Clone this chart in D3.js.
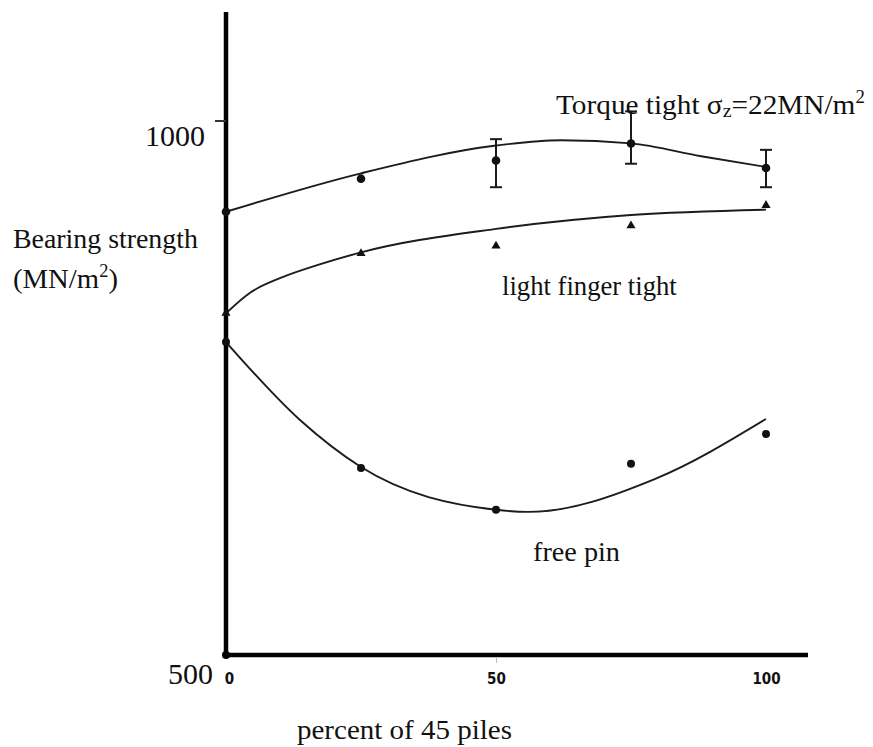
<!DOCTYPE html>
<html>
<head>
<meta charset="utf-8">
<script src="https://cdn.jsdelivr.net/npm/d3@7"></script>
<style>
  html, body { margin: 0; padding: 0; background: #fff; }
  svg text { font-family: "Liberation Serif", "DejaVu Serif", serif; fill: #111; }
</style>
</head>
<body>
<svg id="chart" width="873" height="747"></svg>
<script>
// Measured points (percent of piles vs bearing strength, MN/m²)
const pctPoints = [0, 25, 50, 75, 100];
const torqueValues = [915, 946, 963, 979, 956];
const torqueErrLow = [null, null, 938, 960, 938];
const torqueErrHigh = [null, null, 983, 1009, 973];
const fingerValues = [820, 876, 883, 902, 921];
const freeValues = [793, 675, 636, 679, 707];

// Hand-fitted trend curves
const torqueFitX = [0, 25, 50, 62, 75, 88, 100];
const torqueFitV = [915, 951, 977, 982, 979, 967, 957];
const fingerFitX = [0, 4.4, 10.6, 16.9, 25, 50, 75, 100];
const fingerFitV = [820, 839, 854, 865, 877, 899, 912, 917];
const freeFitX = [0, 13.7, 25, 50, 56, 79.5, 100];
const freeFitV = [793, 720, 676, 636, 634, 665, 721];

// Axis ticks
const xTicks = [0, 50, 100];
const yTicks = [500, 1000];

const svg = d3.select("#chart");
const x = d3.scaleLinear().domain([0, 100]).range([226, 766]);
const y = d3.scaleLinear().domain([500, 1000]).range([655, 121]);

const line = d3.line()
  .x(d => x(d[0]))
  .y(d => y(d[1]))
  .curve(d3.curveMonotoneX);

const zip = (a, b) => a.map((v, i) => [v, b[i]]);

// Fitted curves
[[torqueFitX, torqueFitV], [fingerFitX, fingerFitV], [freeFitX, freeFitV]].forEach(([xs, vs]) => {
  svg.append("path")
    .attr("d", line(zip(xs, vs)))
    .attr("fill", "none")
    .attr("stroke", "#1c1c1c")
    .attr("stroke-width", 1.9);
});

// Axes (thick frame lines)
svg.append("line")
  .attr("x1", x(0)).attr("x2", x(0))
  .attr("y1", 12).attr("y2", y(500) + 3)
  .attr("stroke", "#000").attr("stroke-width", 4.5);
svg.append("line")
  .attr("x1", x(0) - 2).attr("x2", 808)
  .attr("y1", y(500)).attr("y2", y(500))
  .attr("stroke", "#000").attr("stroke-width", 4.5);
svg.append("circle").attr("cx", x(0)).attr("cy", y(500)).attr("r", 4).attr("fill", "#000");

// Bottom axis labels
const xAxis = d3.axisBottom(x).tickValues(xTicks).tickSize(6).tickFormat(d3.format("d"));
const gx = svg.append("g").attr("transform", `translate(0,${y(500) + 2})`).call(xAxis);
gx.select(".domain").remove();
gx.selectAll(".tick line").attr("stroke", "#bbb").attr("stroke-width", 1)
  .filter(d => d !== 50).remove();
gx.selectAll(".tick text")
  .attr("y", 27).attr("dy", 0)
  .attr("dx", d => d === 0 ? 3 : 0)
  .attr("font-family", "'DejaVu Sans Condensed', 'DejaVu Sans', sans-serif")
  .style("font-family", "'DejaVu Sans Condensed', 'DejaVu Sans', sans-serif")
  .style("font-weight", "bold")
  .style("font-size", "15px")
  .attr("fill", "#222");

// Left axis labels
const yAxis = d3.axisLeft(y).tickValues(yTicks).tickSize(0).tickFormat(d3.format("d"));
const gy = svg.append("g").attr("transform", `translate(${x(0)},0)`).call(yAxis);
gy.select(".domain").remove();
gy.selectAll(".tick text")
  .style("font-family", "'Liberation Serif', serif")
  .style("font-size", "30px")
  .attr("fill", "#111")
  .attr("x", d => d === 500 ? -13 : -21)
  .attr("dy", d => d === 500 ? 28 : 24);
// small tick at 1000
svg.append("line")
  .attr("x1", x(0) - 11).attr("x2", x(0))
  .attr("y1", y(1000)).attr("y2", y(1000))
  .attr("stroke", "#333").attr("stroke-width", 2);

// Error bars on torque tight series
pctPoints.forEach((p, i) => {
  if (torqueErrLow[i] == null) return;
  const g = svg.append("g").attr("stroke", "#1a1a1a").attr("stroke-width", 2);
  g.append("line").attr("x1", x(p)).attr("x2", x(p)).attr("y1", y(torqueErrLow[i])).attr("y2", y(torqueErrHigh[i]));
  g.append("line").attr("x1", x(p) - 6).attr("x2", x(p) + 6).attr("y1", y(torqueErrLow[i])).attr("y2", y(torqueErrLow[i]));
  g.append("line").attr("x1", x(p) - 6).attr("x2", x(p) + 6).attr("y1", y(torqueErrHigh[i])).attr("y2", y(torqueErrHigh[i]));
});

// Markers
svg.append("g").selectAll("circle").data(zip(pctPoints, torqueValues)).join("circle")
  .attr("cx", d => x(d[0])).attr("cy", d => y(d[1])).attr("r", 4.3).attr("fill", "#111");
const tri = d3.symbol().type(d3.symbolTriangle).size(36);
svg.append("g").selectAll("path").data(zip(pctPoints, fingerValues)).join("path")
  .attr("d", tri)
  .attr("transform", d => `translate(${x(d[0])},${y(d[1])})`)
  .attr("fill", "#111");
svg.append("g").selectAll("circle").data(zip(pctPoints, freeValues)).join("circle")
  .attr("cx", d => x(d[0])).attr("cy", d => y(d[1])).attr("r", 4).attr("fill", "#111");

// Text labels, each stretched to its set width
function label(tx, ty, width, size) {
  const t = svg.append("text").attr("x", 0).attr("y", 0)
    .attr("font-family", "'Liberation Serif', serif")
    .style("font-family", "'Liberation Serif', serif")
    .style("font-size", size + "px");
  return { t, fit() {
    const w = t.node().getBBox().width;
    t.attr("transform", `translate(${tx},${ty}) scale(${width / w},1)`);
  } };
}

const l1 = label(556, 114, 309, 28);
l1.t.append("tspan").text("Torque tight σ");
l1.t.append("tspan").text("z").style("font-size", "19px").attr("dy", 3);
l1.t.append("tspan").text("=22MN/m").attr("dy", -3);
l1.t.append("tspan").text("2").style("font-size", "18px").attr("dy", -11);
l1.fit();

const l2 = label(502, 295, 175, 28);
l2.t.text("light finger tight");
l2.fit();

const l3 = label(533, 561, 87, 28);
l3.t.text("free pin");
l3.fit();

const l4 = label(13, 248, 185, 28);
l4.t.text("Bearing strength");
l4.fit();

const l5 = label(13, 288, 105, 28);
l5.t.append("tspan").text("(MN/m");
l5.t.append("tspan").text("2").style("font-size", "18px").attr("dy", -11);
l5.t.append("tspan").text(")").attr("dy", 11);
l5.fit();

const l6 = label(297, 739, 215, 28);
l6.t.text("percent of 45 piles");
l6.fit();
</script>
</body>
</html>
